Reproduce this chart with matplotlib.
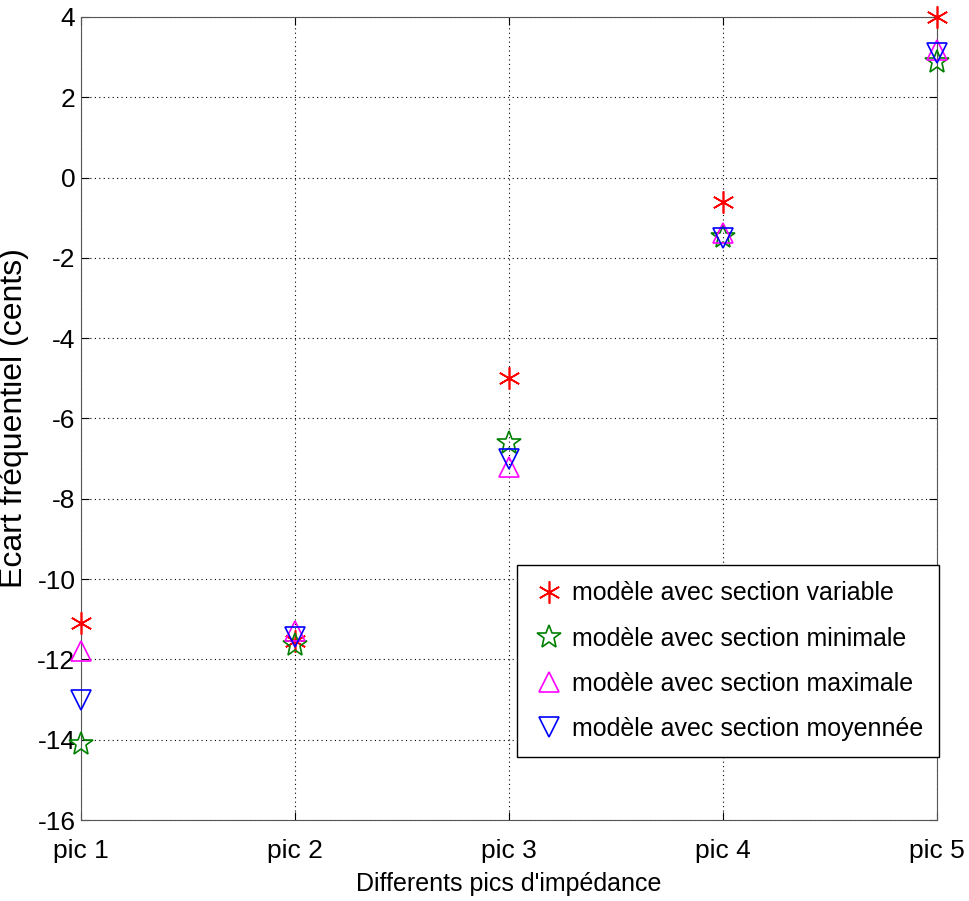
import numpy as np
import matplotlib.pyplot as plt

plt.rcParams['font.family'] = ['Liberation Sans', 'DejaVu Sans']
plt.rcParams['axes.unicode_minus'] = False

pics = ["pic 1", "pic 2", "pic 3", "pic 4", "pic 5"]
sec_variable = [-11.1, -11.55, -5.0, -0.62, 4.0]
sec_minimale = [-14.1, -11.65, -6.6, -1.47, 2.88]
sec_maximale = [-11.8, -11.3, -7.2, -1.38, 3.18]
sec_moyennee = [-13.0, -11.45, -7.0, -1.5, 3.1]

x = np.arange(1, len(pics) + 1)

fig = plt.figure(figsize=(9.69, 9.01), dpi=100)
ax = fig.add_axes([81 / 969, 1 - 820 / 901, 856 / 969, 803 / 901])

asterisk = (6, 2, 0)
common = dict(linestyle="none", markeredgewidth=1.2, clip_on=False, zorder=5)
ax.plot(x, sec_variable, marker=asterisk, color="red", markersize=16,
        label="modèle avec section variable", **common)
ax.plot(x, sec_minimale, marker="*", color="green", markerfacecolor="none",
        markersize=18, label="modèle avec section minimale", **common)
ax.plot(x, sec_maximale, marker="^", color="magenta", markerfacecolor="none",
        markersize=15, label="modèle avec section maximale", **common)
ax.plot(x, sec_moyennee, marker="v", color="blue", markerfacecolor="none",
        markersize=15, label="modèle avec section moyennée", **common)

ax.set_xlim(1, 5)
ax.set_ylim(-16, 4)
ax.set_xticks(x)
ax.set_xticklabels(pics)
ax.set_yticks(np.arange(-16, 5, 2))
ax.tick_params(direction="in", labelsize=19, length=6, top=True, right=True)
ax.tick_params(axis="x", pad=14)
ax.tick_params(axis="y", pad=4)
ax.grid(True, linestyle=(0, (1, 3)), color="black", linewidth=0.8)
for s in ax.spines.values():
    s.set_color("#555555")

ax.set_xlabel("Differents pics d'impédance", fontsize=18, labelpad=6)
ax.set_ylabel("Ecart fréquentiel (cents)", fontsize=23, labelpad=6)

leg = ax.legend(loc="lower left", bbox_to_anchor=(0.509, 0.078), fontsize=18,
                fancybox=False, framealpha=1, edgecolor="black",
                handletextpad=0.25, borderpad=0.65, labelspacing=0.85,
                handlelength=1.3, borderaxespad=0)
leg.get_frame().set_linewidth(1.0)

fig.savefig("out.png", dpi=100)
